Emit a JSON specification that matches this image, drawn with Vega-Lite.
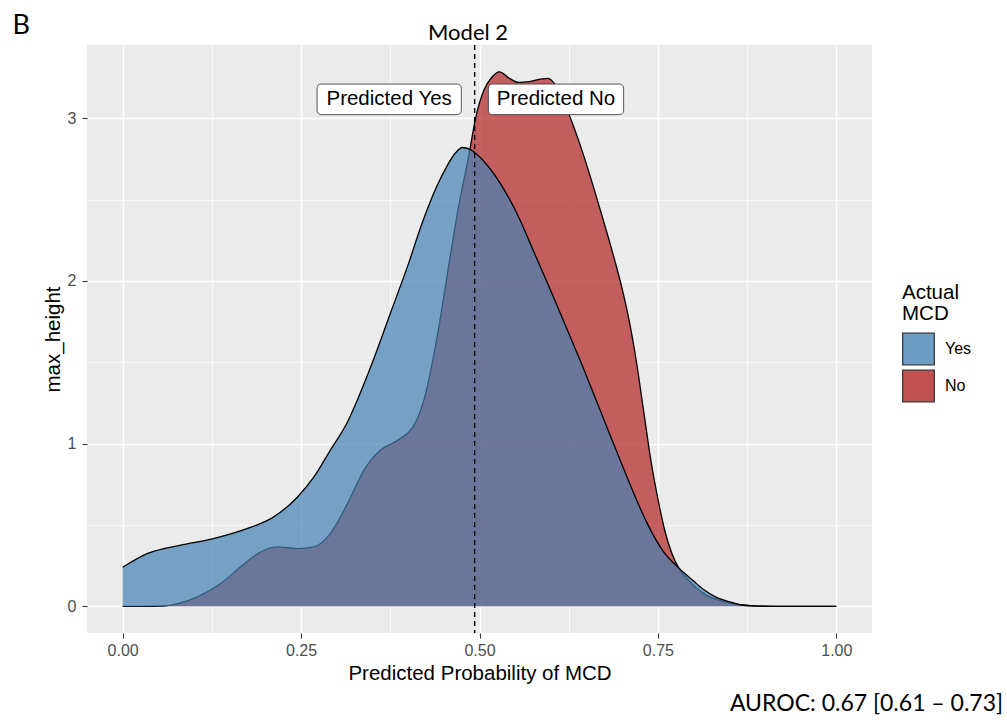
{
  "$schema": "https://vega.github.io/schema/vega-lite/v6.json",
  "width": 785,
  "height": 588,
  "autosize": {"type": "none"},
  "padding": {"left": 87, "top": 45, "right": 135, "bottom": 91},
  "background": "white",
  "config": {
    "font": "Liberation Sans",
    "view": {"fill": "#EBEBEB", "stroke": null},
    "axis": {"domain": false, "labelFont": "Liberation Sans", "titleFont": "Liberation Sans"}
  },
  "datasets": {
    "dens": [
      {"group": "No", "p": 0.000, "h": 0},
      {"group": "No", "p": 0.030, "h": 0},
      {"group": "No", "p": 0.055, "h": 0.002},
      {"group": "No", "p": 0.080, "h": 0.02},
      {"group": "No", "p": 0.104, "h": 0.057},
      {"group": "No", "p": 0.137, "h": 0.139},
      {"group": "No", "p": 0.165, "h": 0.242},
      {"group": "No", "p": 0.193, "h": 0.334},
      {"group": "No", "p": 0.217, "h": 0.365},
      {"group": "No", "p": 0.245, "h": 0.355},
      {"group": "No", "p": 0.268, "h": 0.365},
      {"group": "No", "p": 0.291, "h": 0.447},
      {"group": "No", "p": 0.315, "h": 0.631},
      {"group": "No", "p": 0.338, "h": 0.836},
      {"group": "No", "p": 0.361, "h": 0.959},
      {"group": "No", "p": 0.385, "h": 1.02},
      {"group": "No", "p": 0.408, "h": 1.112},
      {"group": "No", "p": 0.422, "h": 1.266},
      {"group": "No", "p": 0.442, "h": 1.69},
      {"group": "No", "p": 0.456, "h": 2.07},
      {"group": "No", "p": 0.470, "h": 2.44},
      {"group": "No", "p": 0.485, "h": 2.77},
      {"group": "No", "p": 0.495, "h": 3.01},
      {"group": "No", "p": 0.506, "h": 3.17},
      {"group": "No", "p": 0.517, "h": 3.25},
      {"group": "No", "p": 0.528, "h": 3.285},
      {"group": "No", "p": 0.542, "h": 3.245},
      {"group": "No", "p": 0.555, "h": 3.22},
      {"group": "No", "p": 0.570, "h": 3.225},
      {"group": "No", "p": 0.585, "h": 3.24},
      {"group": "No", "p": 0.596, "h": 3.245},
      {"group": "No", "p": 0.610, "h": 3.18},
      {"group": "No", "p": 0.623, "h": 3.05},
      {"group": "No", "p": 0.646, "h": 2.77},
      {"group": "No", "p": 0.669, "h": 2.44},
      {"group": "No", "p": 0.688, "h": 2.15},
      {"group": "No", "p": 0.700, "h": 1.95},
      {"group": "No", "p": 0.710, "h": 1.75},
      {"group": "No", "p": 0.720, "h": 1.50},
      {"group": "No", "p": 0.730, "h": 1.20},
      {"group": "No", "p": 0.740, "h": 0.90},
      {"group": "No", "p": 0.750, "h": 0.66},
      {"group": "No", "p": 0.760, "h": 0.46},
      {"group": "No", "p": 0.770, "h": 0.32},
      {"group": "No", "p": 0.780, "h": 0.23},
      {"group": "No", "p": 0.795, "h": 0.15},
      {"group": "No", "p": 0.815, "h": 0.075},
      {"group": "No", "p": 0.840, "h": 0.032},
      {"group": "No", "p": 0.860, "h": 0.013},
      {"group": "No", "p": 0.885, "h": 0.003},
      {"group": "No", "p": 0.920, "h": 0},
      {"group": "No", "p": 1.000, "h": 0},
      {"group": "Yes", "p": 0.000, "h": 0.24},
      {"group": "Yes", "p": 0.035, "h": 0.325},
      {"group": "Yes", "p": 0.080, "h": 0.375},
      {"group": "Yes", "p": 0.127, "h": 0.416},
      {"group": "Yes", "p": 0.174, "h": 0.477},
      {"group": "Yes", "p": 0.210, "h": 0.545},
      {"group": "Yes", "p": 0.245, "h": 0.672},
      {"group": "Yes", "p": 0.268, "h": 0.795},
      {"group": "Yes", "p": 0.291, "h": 0.96},
      {"group": "Yes", "p": 0.315, "h": 1.133},
      {"group": "Yes", "p": 0.329, "h": 1.27},
      {"group": "Yes", "p": 0.350, "h": 1.50},
      {"group": "Yes", "p": 0.375, "h": 1.80},
      {"group": "Yes", "p": 0.400, "h": 2.10},
      {"group": "Yes", "p": 0.420, "h": 2.36},
      {"group": "Yes", "p": 0.440, "h": 2.58},
      {"group": "Yes", "p": 0.455, "h": 2.71},
      {"group": "Yes", "p": 0.465, "h": 2.78},
      {"group": "Yes", "p": 0.476, "h": 2.82},
      {"group": "Yes", "p": 0.490, "h": 2.80},
      {"group": "Yes", "p": 0.505, "h": 2.74},
      {"group": "Yes", "p": 0.529, "h": 2.60},
      {"group": "Yes", "p": 0.553, "h": 2.41},
      {"group": "Yes", "p": 0.576, "h": 2.18},
      {"group": "Yes", "p": 0.596, "h": 1.98},
      {"group": "Yes", "p": 0.620, "h": 1.73},
      {"group": "Yes", "p": 0.645, "h": 1.47},
      {"group": "Yes", "p": 0.665, "h": 1.25},
      {"group": "Yes", "p": 0.685, "h": 1.03},
      {"group": "Yes", "p": 0.710, "h": 0.76},
      {"group": "Yes", "p": 0.735, "h": 0.51},
      {"group": "Yes", "p": 0.758, "h": 0.335},
      {"group": "Yes", "p": 0.780, "h": 0.232},
      {"group": "Yes", "p": 0.800, "h": 0.155},
      {"group": "Yes", "p": 0.815, "h": 0.10},
      {"group": "Yes", "p": 0.830, "h": 0.06},
      {"group": "Yes", "p": 0.848, "h": 0.031},
      {"group": "Yes", "p": 0.867, "h": 0.008},
      {"group": "Yes", "p": 0.890, "h": 0.001},
      {"group": "Yes", "p": 0.920, "h": 0},
      {"group": "Yes", "p": 1.000, "h": 0}
    ]
  },
  "resolve": {"axis": {"x": "independent", "y": "independent"}},
  "layer": [
    {
      "data": {"name": "dens"},
      "transform": [{"filter": "datum.group === 'No'"}],
      "mark": {"type": "area", "interpolate": "monotone", "fillOpacity": 0.7},
      "encoding": {
        "x": {"field": "p", "type": "quantitative",
              "scale": {"domain": [-0.05, 1.05], "nice": false, "zero": false},
              "axis": {"orient": "top", "values": [0.125, 0.375, 0.625, 0.875], "grid": true, "gridColor": "white", "gridWidth": 0.7, "labels": false, "ticks": false, "domain": false, "title": null}},
        "y": {"field": "h", "type": "quantitative",
              "scale": {"domain": [-0.164, 3.45], "nice": false, "zero": false},
              "axis": {"orient": "right", "values": [0.5, 1.5, 2.5], "grid": true, "gridColor": "white", "gridWidth": 0.7, "labels": false, "ticks": false, "domain": false, "title": null}},
        "color": {"field": "group", "type": "nominal",
                  "scale": {"domain": ["Yes", "No"], "range": ["#4682B4", "#B22222"]},
                  "legend": {
                    "title": ["Actual", "MCD"],
                    "orient": "none",
                    "legendX": 815,
                    "legendY": 238,
                    "titleFont": "Liberation Sans",
                    "titleFontSize": 20.5,
                    "titleFontWeight": "normal",
                    "titleColor": "black",
                    "titleLineHeight": 21,
                    "titlePadding": 8,
                    "labelFont": "Liberation Sans",
                    "labelFontSize": 16,
                    "labelColor": "black",
                    "labelOffset": 10,
                    "symbolType": "square",
                    "symbolSize": 1000,
                    "symbolOpacity": 0.78,
                    "rowPadding": 0,
                    "encode": {"symbols": {"update": {"stroke": {"value": "#000"}, "strokeWidth": {"value": 1.3}}}}
                  }}
      }
    },
    {
      "data": {"name": "dens"},
      "transform": [{"filter": "datum.group === 'No'"}],
      "mark": {"type": "line", "interpolate": "monotone", "color": "black", "strokeWidth": 1.3},
      "encoding": {
        "x": {"field": "p", "type": "quantitative",
              "axis": {"orient": "bottom", "values": [0, 0.25, 0.5, 0.75, 1], "format": ".2f", "grid": true, "gridColor": "white", "gridWidth": 1.4,
                       "labelFontSize": 16, "labelColor": "#4D4D4D", "labelPadding": 4, "tickColor": "#333333", "tickSize": 5, "tickWidth": 1.1,
                       "title": "Predicted Probability of MCD", "titleFontSize": 20.5, "titleFontWeight": "normal", "titleColor": "black", "titlePadding": 5}},
        "y": {"field": "h", "type": "quantitative",
              "axis": {"orient": "left", "values": [0, 1, 2, 3], "grid": true, "gridColor": "white", "gridWidth": 1.4,
                       "labelFontSize": 16, "labelColor": "#4D4D4D", "labelPadding": 6, "tickColor": "#333333", "tickSize": 5, "tickWidth": 1.1,
                       "title": "max_height", "titleFontSize": 20.5, "titleFontWeight": "normal", "titleColor": "black", "titlePadding": 4}}
      }
    },
    {
      "data": {"name": "dens"},
      "transform": [{"filter": "datum.group === 'Yes'"}],
      "mark": {"type": "area", "interpolate": "monotone", "fillOpacity": 0.7},
      "encoding": {
        "x": {"field": "p", "type": "quantitative", "axis": null},
        "y": {"field": "h", "type": "quantitative", "axis": null},
        "color": {"field": "group", "type": "nominal"}
      }
    },
    {
      "data": {"name": "dens"},
      "transform": [{"filter": "datum.group === 'Yes'"}],
      "mark": {"type": "line", "interpolate": "monotone", "color": "black", "strokeWidth": 1.3},
      "encoding": {
        "x": {"field": "p", "type": "quantitative", "axis": null},
        "y": {"field": "h", "type": "quantitative", "axis": null}
      }
    },
    {
      "data": {"values": [{}]},
      "mark": {"type": "rule", "color": "black", "strokeWidth": 1.4, "strokeDash": [5, 4]},
      "encoding": {
        "x": {"datum": 0.4932, "type": "quantitative", "axis": null}
      }
    },
    {
      "data": {"values": [{}]},
      "mark": {"type": "rect", "fill": "white", "stroke": "#444444", "strokeWidth": 0.9, "cornerRadius": 4},
      "encoding": {
        "x": {"datum": 0.2724, "type": "quantitative", "axis": null},
        "x2": {"datum": 0.4745},
        "y": {"datum": 3.022, "type": "quantitative", "axis": null},
        "y2": {"datum": 3.210}
      }
    },
    {
      "data": {"values": [{}]},
      "mark": {"type": "rect", "fill": "white", "stroke": "#444444", "strokeWidth": 0.9, "cornerRadius": 4},
      "encoding": {
        "x": {"datum": 0.5124, "type": "quantitative", "axis": null},
        "x2": {"datum": 0.7020},
        "y": {"datum": 3.022, "type": "quantitative", "axis": null},
        "y2": {"datum": 3.210}
      }
    },
    {
      "data": {"values": [{"label": "Predicted Yes"}]},
      "mark": {"type": "text", "font": "Liberation Sans", "fontSize": 20.5, "color": "black", "align": "center", "baseline": "middle"},
      "encoding": {
        "x": {"datum": 0.3734, "type": "quantitative", "axis": null},
        "y": {"datum": 3.116, "type": "quantitative", "axis": null},
        "text": {"field": "label"}
      }
    },
    {
      "data": {"values": [{"label": "Predicted No"}]},
      "mark": {"type": "text", "font": "Liberation Sans", "fontSize": 20.5, "color": "black", "align": "center", "baseline": "middle"},
      "encoding": {
        "x": {"datum": 0.6072, "type": "quantitative", "axis": null},
        "y": {"datum": 3.116, "type": "quantitative", "axis": null},
        "text": {"field": "label"}
      }
    },
    {
      "data": {"values": [{"label": "Model 2"}]},
      "mark": {"type": "text", "font": "Lato", "fontSize": 22, "color": "black", "align": "center", "baseline": "alphabetic"},
      "encoding": {
        "x": {"datum": 0.484, "type": "quantitative", "axis": null},
        "y": {"datum": 3.483, "type": "quantitative", "axis": null},
        "text": {"field": "label"}
      }
    },
    {
      "data": {"values": [{"label": "B"}]},
      "mark": {"type": "text", "font": "Lato", "fontSize": 27, "color": "black", "align": "left", "baseline": "alphabetic"},
      "encoding": {
        "x": {"datum": -0.1544, "type": "quantitative", "axis": null},
        "y": {"datum": 3.518, "type": "quantitative", "axis": null},
        "text": {"field": "label"}
      }
    },
    {
      "data": {"values": [{"label": "AUROC: 0.67 [0.61 – 0.73]"}]},
      "mark": {"type": "text", "font": "Lato", "fontSize": 23, "color": "black", "align": "right", "baseline": "alphabetic"},
      "encoding": {
        "x": {"datum": 1.2337, "type": "quantitative", "axis": null},
        "y": {"datum": -0.645, "type": "quantitative", "axis": null},
        "text": {"field": "label"}
      }
    }
  ]
}
